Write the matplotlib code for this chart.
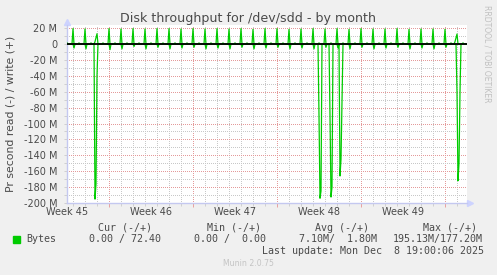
import numpy as np
import matplotlib.pyplot as plt
from matplotlib.patches import Rectangle

# 2-hour samples over 33.3 days (one sample per pixel in the munin month view)
n_samples = 400
samples_per_day = 12

# daily write bursts (M bytes/s), first one half a day after the start
write_peaks = [19.5, 19.0, 13.0, 19.5, 19.0, 19.5, 19.0, 19.5, 19.5, 19.0, 19.5,
               19.0, 19.5, 19.0, 19.5, 18.5, 19.5, 19.5, 18.5, 19.0, 19.5, 19.0,
               19.5, 18.5, 19.5, 19.0, 19.0, 19.5, 18.5, 19.0, 19.0, 18.5, 12.6]
# small read right after each write burst
read_small = [5, 6, 3, 7, 6, 3, 6, 4, 6, 5, 4, 6, 5, 6, 4, 6, 5, 4, 6, 5, 6, 4,
              5, 6, 4, 6, 5, 4, 6, 5, 6, 4, 3]
# tiny write blip at each noon
noon_blip = 1.5

# ramps in front of the two shorter bursts
ramp_idx = [28, 29, 388, 389]
ramp_val = [3.0, 8.0, 3.0, 8.0]

# big read runs: start sample and values (M bytes/s)
big_read_start = [27, 251, 262, 272, 389]
big_read_vals = [
    [0, 195.1, 176, 40, 0],
    [0, 90, 194, 185, 0],
    [0, 90, 192.5, 180, 0],
    [0, 166, 145, 70, 0],
    [0, 60, 172, 150, 60, 0],
]

week_labels = ['Week 45', 'Week 46', 'Week 47', 'Week 48', 'Week 49']

t = np.arange(n_samples) / samples_per_day
write = np.zeros(n_samples)
read = np.zeros(n_samples)
for k, pk in enumerate(write_peaks):
    i = samples_per_day // 2 + k * samples_per_day
    write[i] = pk
    read[i + 1] = read_small[k]
for i in range(0, n_samples, samples_per_day):
    write[i] = noon_blip
for i, v in zip(ramp_idx, ramp_val):
    write[i] = v
for s, vals in zip(big_read_start, big_read_vals):
    read[s:s + len(vals)] = vals

W, H = 497, 275
fig = plt.figure(figsize=(W / 100, H / 100), dpi=100, facecolor='#f0f0f0')
ax = fig.add_axes([67 / W, 1 - 203 / H, 400 / W, 178 / H])
ax.set_facecolor('white')

green = '#00cc00'
txt = '#4a4a4a'
axis_col = '#c4c8f0'

ax.plot(t, write, color=green, lw=0.9, zorder=3)
ax.plot(t, -read, color=green, lw=0.9, zorder=3)
ax.axhline(0, color='black', lw=1.3, zorder=4)

ax.set_xlim(0, n_samples / samples_per_day)
ax.set_ylim(-200, 24)

week_bounds = [3.5 + 7 * j for j in range(5)]
days = [0.5 + k for k in range(33) if (0.5 + k) not in week_bounds]
ax.set_xticks(week_bounds)
ax.set_xticks(days, minor=True)
ax.set_xticklabels([])
ax.set_yticks(range(-200, 21, 20))
ax.set_yticks(range(-190, 20, 20), minor=True)
ax.set_yticklabels([f'{v} M' if v else '0' for v in range(-200, 21, 20)])

ax.grid(which='major', color='#e49a9a', ls=(0, (1, 2)), lw=0.72, zorder=1,
        antialiased=False)
ax.grid(which='minor', color='#c8c8c8', ls=(0, (1, 2)), lw=0.72, zorder=1,
        antialiased=False)
ax.set_axisbelow(True)
ax.tick_params(axis='x', which='major', length=3, color='#e8a0a0', width=0.7)
ax.tick_params(axis='x', which='minor', length=2, color='#cfcfcf', width=0.7)
ax.tick_params(axis='y', which='both', length=2, color='#cfcfcf', width=0.7,
               labelsize=7, labelcolor=txt, pad=5)

for sp in ['top', 'right']:
    ax.spines[sp].set_visible(False)
for sp in ['left', 'bottom']:
    ax.spines[sp].set_color(axis_col)
    ax.spines[sp].set_linewidth(1)
ax.plot(0, 1.015, marker='^', ms=5, color='#cdd3ff', transform=ax.transAxes, clip_on=False)
ax.plot(1.008, 0, marker='>', ms=5, color='#cdd3ff', transform=ax.transAxes, clip_on=False)

for j, lab in enumerate(week_labels):
    ax.text(7 * j, -0.053, lab, transform=ax.get_xaxis_transform(),
            ha='center', va='center', fontsize=7, color=txt)

fig.text(248 / W, 1 - 18.5 / H, 'Disk throughput for /dev/sdd - by month',
         ha='center', va='center', fontsize=9.1, color=txt)
fig.text(11 / W, 1 - 114 / H, 'Pr second read (-) / write (+)', rotation=90,
         ha='center', va='center', fontsize=7.8, color=txt)
fig.text(487 / W, 1 - 5 / H, 'RRDTOOL / TOBI OETIKER', rotation=270,
         ha='center', va='top', fontsize=5.5, color='#c0c0c0')

mono = dict(family='DejaVu Sans Mono', fontsize=7.2, color=txt, va='center')
fig.patches.append(Rectangle((13 / W, 1 - 243 / H), 7 / W, 7 / H,
                             transform=fig.transFigure, color=green))
fig.text(26 / W, 1 - 239.3 / H, 'Bytes', **mono)
headers = ['Cur (-/+)', 'Min (-/+)', 'Avg (-/+)', 'Max (-/+)']
header_x = [98, 207, 315, 423]
values = ['0.00 / 72.40', '0.00 /  0.00', '7.10M/  1.80M', '195.13M/177.20M']
value_x = [89, 194, 299, 393]
for h, hx in zip(headers, header_x):
    fig.text(hx / W, 1 - 227.7 / H, h, **mono)
for v, vx in zip(values, value_x):
    fig.text(vx / W, 1 - 239.3 / H, v, **mono)
fig.text(262 / W, 1 - 251 / H, 'Last update: Mon Dec  8 19:00:06 2025', **mono)
fig.text(248 / W, 1 - 264 / H, 'Munin 2.0.75', ha='center', va='center',
         fontsize=5.6, color='#c4c4c4')

fig.savefig('out.png', dpi=100, facecolor=fig.get_facecolor())
